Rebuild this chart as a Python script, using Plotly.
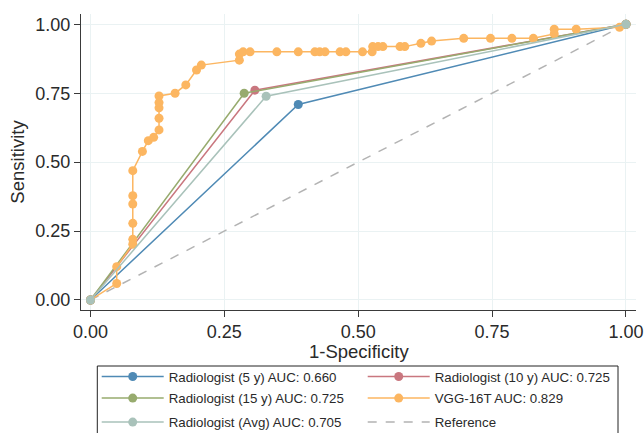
import plotly.graph_objects as go

# ---- data ----
r5_fpr = [0.0, 0.388, 1.0]
r5_tpr = [0.0, 0.709, 1.0]
r10_fpr = [0.0, 0.307, 1.0]
r10_tpr = [0.0, 0.761, 1.0]
r15_fpr = [0.0, 0.287, 1.0]
r15_tpr = [0.0, 0.750, 1.0]
ravg_fpr = [0.0, 0.328, 1.0]
ravg_tpr = [0.0, 0.739, 1.0]

vgg_fpr = [0.0, 0.049, 0.049, 0.079, 0.079, 0.079, 0.079, 0.079, 0.079, 0.097,
           0.108, 0.118, 0.128, 0.128, 0.128, 0.128, 0.128, 0.158, 0.178, 0.198,
           0.207, 0.278, 0.278, 0.285, 0.298, 0.348, 0.388, 0.419, 0.428, 0.438,
           0.466, 0.477, 0.508, 0.526, 0.527, 0.537, 0.546, 0.578, 0.587, 0.617,
           0.637, 0.697, 0.747, 0.787, 0.827, 0.866, 0.866, 0.907, 0.988, 1.0]
vgg_tpr = [0.0, 0.060, 0.121, 0.202, 0.220, 0.278, 0.348, 0.378, 0.469, 0.539,
           0.578, 0.590, 0.617, 0.659, 0.697, 0.716, 0.740, 0.750, 0.780, 0.834,
           0.852, 0.870, 0.892, 0.900, 0.900, 0.900, 0.900, 0.900, 0.900, 0.900,
           0.900, 0.900, 0.900, 0.900, 0.919, 0.919, 0.919, 0.919, 0.919, 0.931,
           0.939, 0.949, 0.949, 0.949, 0.949, 0.965, 0.982, 0.982, 0.989, 1.0]

ref_x = [0.0, 1.0]
ref_y = [0.0, 1.0]

names = ["Radiologist (5 y) AUC: 0.660", "Radiologist (10 y) AUC: 0.725",
         "Radiologist (15 y) AUC: 0.725", "VGG-16T AUC: 0.829",
         "Radiologist (Avg) AUC: 0.705", "Reference"]
colors = ["#4f8ab5", "#c9777f", "#97ab6e", "#fcb661", "#a9c2ba", "#b3b3b3"]
legend_ids = ["legend", "legend", "legend2", "legend2", "legend3", "legend3"]

tick_vals = [0, 0.25, 0.5, 0.75, 1.0]
tick_text = ["0.00", "0.25", "0.50", "0.75", "1.00"]
x_title = "1-Specificity"
y_title = "Sensitivity"

FONT = "Liberation Sans, Arial, Helvetica, sans-serif"
TXT = "#2a2a2a"

fig = go.Figure()

fig.add_trace(go.Scatter(x=ref_x, y=ref_y, mode="lines", name=names[5],
                         line=dict(color=colors[5], width=1.5, dash="dash"),
                         legend=legend_ids[5], legendrank=6))

series = [(r5_fpr, r5_tpr), (r10_fpr, r10_tpr), (r15_fpr, r15_tpr),
          (vgg_fpr, vgg_tpr), (ravg_fpr, ravg_tpr)]
for i, (xs, ys) in enumerate(series):
    fig.add_trace(go.Scatter(x=xs, y=ys, mode="lines+markers", name=names[i],
                             line=dict(color=colors[i], width=1.5),
                             marker=dict(color=colors[i], size=9),
                             legend=legend_ids[i], legendrank=i + 1))

axis_common = dict(
    tickvals=tick_vals, ticktext=tick_text,
    showgrid=True, gridcolor="#eaf2f3", gridwidth=1,
    zeroline=False, showline=True, linecolor="#3a3a3a", linewidth=1.3,
    ticks="outside", ticklen=6, tickcolor="#3a3a3a", tickwidth=1.3,
    tickfont=dict(family=FONT, size=18, color=TXT),
)

fig.update_xaxes(range=[-0.0177, 1.0187], ticklabelstandoff=-1, **axis_common)
fig.update_yaxes(range=[-0.0363, 1.0373], title=dict(text=y_title,
                 font=dict(family=FONT, size=18.5, color=TXT), standoff=5), **axis_common)

# x-axis title placed just under the tick labels
fig.add_annotation(text=x_title, xref="paper", yref="paper", x=0.5, y=1 - (339.5 - 14) / 296,
                   xanchor="center", yanchor="top", showarrow=False,
                   font=dict(family=FONT, size=18.5, color=TXT))

leg_common = dict(orientation="h", xanchor="left", yanchor="top", x=0.0283,
                  entrywidth=189, entrywidthmode="pixels", itemwidth=62,
                  borderwidth=0, bgcolor="rgba(0,0,0,0)",
                  font=dict(family=FONT, size=13.3, color=TXT),
                  traceorder="normal")

fig.update_layout(
    width=644, height=433,
    margin=dict(l=81, r=8, t=14, b=123, autoexpand=False),
    plot_bgcolor="white", paper_bgcolor="white",
    showlegend=True, hovermode=False,
    legend=dict(y=-0.1949 + 0.0215, **leg_common),
    legend2=dict(y=-0.2669 + 0.0205, **leg_common),
    legend3=dict(y=-0.3436 + 0.016, **leg_common),
)

# legend frame
fig.add_shape(type="rect", xref="paper", yref="paper",
              x0=(97.3 - 81) / 555, x1=(618 - 81) / 555,
              y0=1 - (366 - 14) / 296, y1=-0.6,
              line=dict(color="#222222", width=1), fillcolor="rgba(0,0,0,0)")

fig.write_html("out.html", config={"displayModeBar": False},
               post_script="document.body.style.margin='0px';")
